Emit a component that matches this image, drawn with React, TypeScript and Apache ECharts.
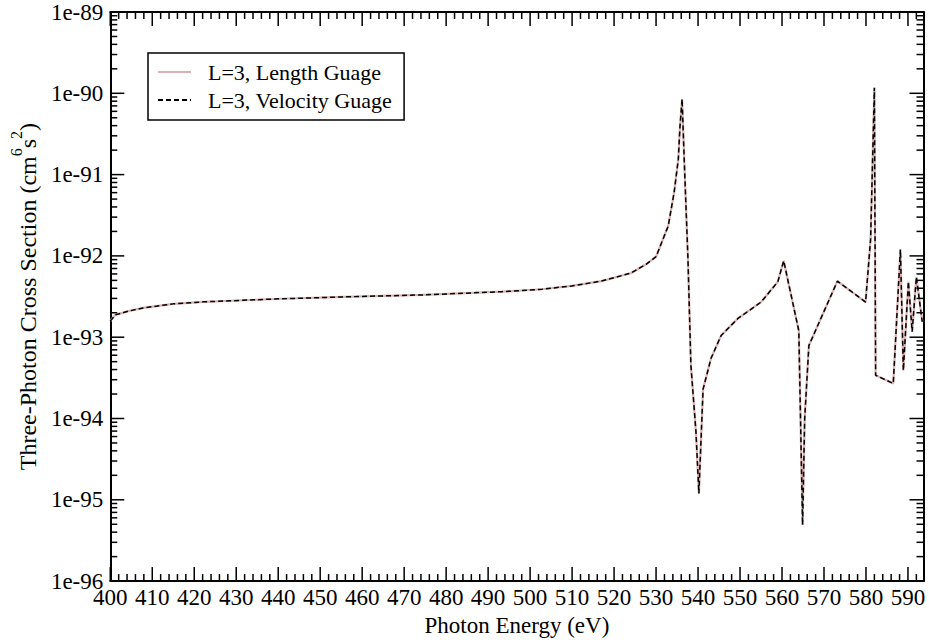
import React, { useEffect, useRef } from "react";
import * as echarts from "echarts";

const energy = [400, 401.2, 404.3, 407.8, 415.0, 422.1, 439.2, 455.3, 474.3, 493.3, 502.8, 509.9, 517.0, 524.1, 527.7, 530.0, 532.9, 534.3, 535.3, 535.7, 536.2, 536.7, 537.6, 538.3, 539.5, 540.2, 541.2, 543.1, 545.5, 549.5, 555.0, 559.0, 560.4, 564.0, 564.9, 565.4, 566.4, 573.2, 579.9, 581.1, 582.0, 582.3, 586.5, 588.2, 588.9, 590.1, 591.0, 592.0, 593.4];
const lengthGauge = [1.58e-93, 1.88e-93, 2.09e-93, 2.29e-93, 2.57e-93, 2.72e-93, 2.95e-93, 3.13e-93, 3.31e-93, 3.63e-93, 3.89e-93, 4.27e-93, 4.9e-93, 6.17e-93, 7.94e-93, 9.77e-93, 2.34e-92, 6.0e-92, 1.55e-91, 3.9e-91, 8.5e-91, 1.55e-91, 9.1e-93, 4.5e-94, 6.9e-95, 1.2e-95, 2.3e-94, 5.5e-94, 1.05e-93, 1.7e-93, 2.7e-93, 4.8e-93, 8.7e-93, 1.2e-93, 4.9e-96, 1.0e-94, 7.9e-94, 4.9e-93, 2.7e-93, 1.6e-92, 1.17e-90, 3.4e-94, 2.7e-94, 1.2e-92, 3.9e-94, 4.8e-93, 1.17e-93, 5.5e-93, 1.55e-93];
const velocityGauge = [1.58e-93, 1.88e-93, 2.09e-93, 2.29e-93, 2.57e-93, 2.72e-93, 2.95e-93, 3.13e-93, 3.31e-93, 3.63e-93, 3.89e-93, 4.27e-93, 4.9e-93, 6.17e-93, 7.94e-93, 9.77e-93, 2.34e-92, 6.0e-92, 1.55e-91, 3.9e-91, 8.5e-91, 1.55e-91, 9.1e-93, 4.5e-94, 6.9e-95, 1.2e-95, 2.3e-94, 5.5e-94, 1.05e-93, 1.7e-93, 2.7e-93, 4.8e-93, 8.7e-93, 1.2e-93, 4.9e-96, 1.0e-94, 7.9e-94, 4.9e-93, 2.7e-93, 1.6e-92, 1.17e-90, 3.4e-94, 2.7e-94, 1.2e-92, 3.9e-94, 4.8e-93, 1.17e-93, 5.5e-93, 1.55e-93];

const xMin = 400;
const xMax = 593.7;
const xStep = 10;
const xMinorStep = 2;
// y axis in decades (exponent of 10)
const yMinExp = -96;
const yMaxExp = -89;

const MAJOR = 14;
const MINOR = 7;

// x ticks: [value, length]
const xTicks: number[][] = [];
for (let v = xMin; v <= xMax; v += xMinorStep) {
  xTicks.push([v, v % xStep === 0 ? MAJOR : MINOR]);
}
// y ticks (log decades with 2..9 minors): [exponent, length]
const yTicks: number[][] = [];
for (let e = yMinExp; e <= yMaxExp; e++) {
  yTicks.push([e, MAJOR]);
  if (e < yMaxExp) for (let m = 2; m <= 9; m++) yTicks.push([e + Math.log10(m), MINOR]);
}

const FONT = "Liberation Serif";

export default function App() {
  const ref = useRef<HTMLDivElement>(null);
  useEffect(() => {
    if (!ref.current) return;
    const chart = echarts.init(ref.current, undefined, { renderer: "svg" });
    const axisLine = { show: true, onZero: false, lineStyle: { color: "#000", width: 2 } };
    const commonX = {
      type: "value" as const,
      min: xMin,
      max: xMax,
      interval: xStep,
      splitLine: { show: false },
      axisLine,
      axisTick: { show: false },
    };
    const commonY = {
      type: "value" as const,
      min: yMinExp,
      max: yMaxExp,
      interval: 1,
      splitLine: { show: false },
      axisLine,
      axisTick: { show: false },
    };
    const toLog = (arr: number[]) => energy.map((x, i) => [x, Math.log10(arr[i])]);
    const tickStyle = { stroke: "#000", lineWidth: 1.5 };
    chart.setOption({
      animation: false,
      backgroundColor: "#fff",
      grid: { left: 107, right: 5.5, top: 12, bottom: 58 },
      legend: {
        left: 148,
        top: 53,
        orient: "vertical",
        backgroundColor: "#fff",
        borderColor: "#000",
        borderWidth: 1.5,
        borderRadius: 0,
        padding: [8, 12, 9, 9],
        itemGap: 6,
        itemWidth: 33,
        itemHeight: 14,
        itemStyle: { opacity: 0 },
        textStyle: { fontFamily: FONT, fontSize: 22, lineHeight: 22, color: "#000", padding: [0, 0, 0, 12] },
        data: ["L=3, Length Guage", "L=3, Velocity Guage"],
      },
      xAxis: [
        {
          ...commonX,
          position: "bottom",
          name: "Photon Energy (eV)",
          nameLocation: "middle",
          nameGap: 22,
          nameTextStyle: { fontFamily: FONT, fontSize: 23, color: "#000" },
          axisLabel: { fontFamily: FONT, fontSize: 23, color: "#000", margin: 5, showMaxLabel: false },
        },
        {
          ...commonX,
          position: "top",
          axisLabel: { show: false },
        },
      ],
      yAxis: [
        {
          ...commonY,
          position: "left",
          name: "{a|Three-Photon Cross Section (cm}{s|6}{a|s}{s|2}{a|)}",
          nameLocation: "middle",
          nameGap: 63,
          nameTextStyle: {
            rich: {
              a: { fontFamily: FONT, fontSize: 24, color: "#000", lineHeight: 32, verticalAlign: "bottom" },
              s: { fontFamily: FONT, fontSize: 16, color: "#000", lineHeight: 32, verticalAlign: "top" },
            },
          },
          axisLabel: {
            fontFamily: FONT,
            fontSize: 23,
            color: "#000",
            margin: 7,
            formatter: (v: number) => `1e${Math.round(v)}`,
          },
        },
        {
          ...commonY,
          position: "right",
          axisLabel: { show: false },
        },
      ],
      series: [
        {
          name: "L=3, Length Guage",
          type: "line",
          data: toLog(lengthGauge),
          showSymbol: false,
          symbol: "none",
          itemStyle: { color: "#dcb0b0" },
          lineStyle: { color: "#dcb0b0", width: 2.2 },
          z: 2,
        },
        {
          name: "L=3, Velocity Guage",
          type: "line",
          data: toLog(velocityGauge),
          showSymbol: false,
          symbol: "none",
          itemStyle: { color: "#000" },
          lineStyle: { color: "#000", width: 1.5, type: [5, 3] },
          z: 3,
        },
        {
          type: "custom",
          silent: true,
          clip: false,
          z: 4,
          data: xTicks,
          renderItem: (params: any, api: any) => {
            const v = api.value(0);
            const len = api.value(1);
            const b = api.coord([v, yMinExp]);
            const t = api.coord([v, yMaxExp]);
            return {
              type: "group",
              children: [
                { type: "line", shape: { x1: b[0], y1: b[1], x2: b[0], y2: b[1] - len }, style: tickStyle },
                { type: "line", shape: { x1: t[0], y1: t[1], x2: t[0], y2: t[1] + len }, style: tickStyle },
              ],
            };
          },
        },
        {
          type: "custom",
          silent: true,
          clip: false,
          z: 4,
          data: yTicks.map((t) => [xMin, t[0], t[1]]),
          renderItem: (params: any, api: any) => {
            const v = api.value(1);
            const len = api.value(2);
            const l = api.coord([xMin, v]);
            const r = api.coord([xMax, v]);
            return {
              type: "group",
              children: [
                { type: "line", shape: { x1: l[0], y1: l[1], x2: l[0] + len, y2: l[1] }, style: tickStyle },
                { type: "line", shape: { x1: r[0], y1: r[1], x2: r[0] - len, y2: r[1] }, style: tickStyle },
              ],
            };
          },
        },
      ],
    });
    return () => chart.dispose();
  }, []);
  return (
    <div
      ref={ref}
      style={{ position: "fixed", left: 0, top: 0, width: 929, height: 642 }}
    />
  );
}
